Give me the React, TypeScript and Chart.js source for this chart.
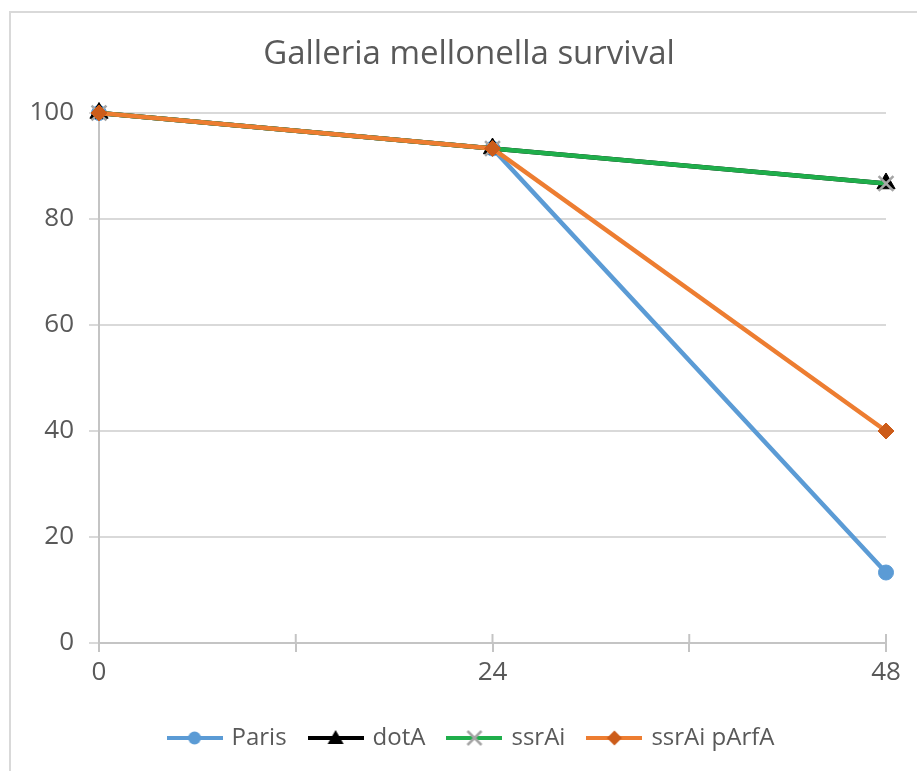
import { useEffect, useRef } from "react";
import { Chart, registerables } from "chart.js";

Chart.register(...registerables);

// ---- data ----
const hours = [0, 24, 48];
const paris = [100, 93.3, 13.3];
const dotA = [100, 93.3, 86.7];
const ssrAi = [100, 93.3, 86.7];
const ssrAiPArfA = [100, 93.3, 40];
const seriesNames = ["Paris", "dotA", "ssrAi", "ssrAi pArfA"];
const chartTitle = "Galleria mellonella survival";

const FONT = "'Segoe UI', 'Open Sans', sans-serif";
const TEXT = "#595959";
const GRID = "#d9d9d9";
const AXIS = "#c4c4c4";

type Marker = "circle" | "triangle" | "cross" | "diamond";

function legendIcon(line: string, marker: Marker, mColor: string): HTMLCanvasElement {
  const c = document.createElement("canvas");
  c.width = 56;
  c.height = 20;
  const ctx = c.getContext("2d")!;
  ctx.strokeStyle = line;
  ctx.lineWidth = 4;
  ctx.beginPath();
  ctx.moveTo(0, 10);
  ctx.lineTo(56, 10);
  ctx.stroke();
  const cx = 28, cy = 10;
  ctx.fillStyle = mColor;
  ctx.strokeStyle = mColor;
  if (marker === "circle") {
    ctx.beginPath();
    ctx.arc(cx, cy, 6.5, 0, Math.PI * 2);
    ctx.fill();
  } else if (marker === "triangle") {
    ctx.beginPath();
    ctx.moveTo(cx, cy - 8);
    ctx.lineTo(cx + 8, cy + 6);
    ctx.lineTo(cx - 8, cy + 6);
    ctx.closePath();
    ctx.fill();
  } else if (marker === "cross") {
    ctx.lineWidth = 2.5;
    ctx.beginPath();
    ctx.moveTo(cx - 7, cy - 7);
    ctx.lineTo(cx + 7, cy + 7);
    ctx.moveTo(cx + 7, cy - 7);
    ctx.lineTo(cx - 7, cy + 7);
    ctx.stroke();
  } else {
    ctx.beginPath();
    ctx.moveTo(cx, cy - 7.5);
    ctx.lineTo(cx + 7.5, cy);
    ctx.lineTo(cx, cy + 7.5);
    ctx.lineTo(cx - 7.5, cy);
    ctx.closePath();
    ctx.fill();
  }
  return c;
}

export default function App() {
  const ref = useRef<HTMLCanvasElement | null>(null);

  useEffect(() => {
    if (!ref.current) return;
    const styles = [
      { line: "#5b9bd5", marker: "circle" as Marker, mColor: "#5b9bd5" },
      { line: "#000000", marker: "triangle" as Marker, mColor: "#000000" },
      { line: "#1fae4b", marker: "cross" as Marker, mColor: "#a5a5a5" },
      { line: "#ed7d31", marker: "diamond" as Marker, mColor: "#cc5c1a" },
    ];
    const icons = styles.map((s) => legendIcon(s.line, s.marker, s.mColor));
    const toXY = (arr: number[]) => arr.map((v, i) => ({ x: hours[i], y: v }));

    const deco = {
      id: "deco",
      afterLayout(chart: any) {
        // Excel centres the legend on a wider chart frame; nudge it right
        const lg = chart.legend;
        if (lg) {
          lg.left += 29;
          lg.right += 29;
        }
      },
      beforeDraw(chart: any) {
        const ctx = chart.ctx;
        ctx.save();
        ctx.fillStyle = "#ffffff";
        ctx.fillRect(0, 0, chart.width, chart.height);
        ctx.strokeStyle = GRID;
        ctx.lineWidth = 2;
        ctx.beginPath();
        ctx.moveTo(10, chart.height + 2);
        ctx.lineTo(10, 12);
        ctx.lineTo(chart.width + 2, 12);
        ctx.stroke();
        ctx.fillStyle = TEXT;
        ctx.font = `33px ${FONT}`;
        ctx.textAlign = "center";
        ctx.textBaseline = "middle";
        ctx.fillText(chartTitle, 469, 55);
        ctx.restore();
      },
      beforeDatasetsDraw(chart: any) {
        const ctx = chart.ctx;
        const xs = chart.scales.x;
        const y0 = chart.scales.y.getPixelForValue(0);
        ctx.save();
        ctx.strokeStyle = AXIS;
        ctx.lineWidth = 2;
        xs.ticks.forEach((t: any) => {
          const px = xs.getPixelForValue(t.value);
          ctx.beginPath();
          ctx.moveTo(px, y0);
          ctx.lineTo(px, y0 - 9);
          ctx.stroke();
        });
        ctx.restore();
      },
    };

    const chart = new Chart(ref.current, {
      type: "line",
      data: {
        datasets: [
          { label: seriesNames[0], data: toXY(paris), order: 3 },
          { label: seriesNames[1], data: toXY(dotA), order: 2 },
          { label: seriesNames[2], data: toXY(ssrAi), order: 1 },
          { label: seriesNames[3], data: toXY(ssrAiPArfA), order: 0 },
        ].map((d, i) => {
          const s = styles[i];
          const base: any = {
            ...d,
            borderColor: s.line,
            borderWidth: 4.5,
            tension: 0,
            fill: false,
            clip: false,
            pointBackgroundColor: s.mColor,
            pointBorderColor: s.mColor,
            pointBorderWidth: 1,
          };
          if (s.marker === "circle") Object.assign(base, { pointStyle: "circle", pointRadius: 7.5 });
          if (s.marker === "triangle") Object.assign(base, { pointStyle: "triangle", pointRadius: 10.5 });
          if (s.marker === "cross") Object.assign(base, { pointStyle: "crossRot", pointRadius: 10.5, pointBorderWidth: 2.5 });
          if (s.marker === "diamond") Object.assign(base, { pointStyle: "rectRot", pointRadius: 8 });
          return base;
        }),
      },
      plugins: [deco],
      options: {
        responsive: false,
        animation: false,
        layout: { padding: { top: 113, right: 31, left: 0, bottom: 11 } },
        scales: {
          x: {
            type: "linear",
            min: 0,
            max: 48,
            ticks: {
              stepSize: 12,
              autoSkip: false,
              maxRotation: 0,
              color: TEXT,
              font: { family: FONT, size: 26 },
              padding: 5,
              callback: (v: any) => (Number(v) % 24 === 0 ? String(v) : ""),
            },
            grid: { drawOnChartArea: false, color: AXIS, lineWidth: 2, tickLength: 9 },
            border: { color: AXIS, width: 2 },
            afterFit: (scale: any) => {
              scale.height = 59;
            },
          },
          y: {
            min: 0,
            max: 100,
            ticks: {
              stepSize: 20,
              color: TEXT,
              font: { family: FONT, size: 26 },
              padding: 15,
            },
            grid: { color: GRID, lineWidth: 2, tickLength: 10 },
            border: { color: AXIS, width: 2 },
            afterFit: (scale: any) => {
              scale.width = 99;
            },
          },
        },
        plugins: {
          title: { display: false },
          tooltip: { enabled: false },
          legend: {
            position: "bottom",
            labels: {
              usePointStyle: true,
              pointStyleWidth: 50,
              padding: 24,
              color: TEXT,
              font: { family: FONT, size: 24 },
              generateLabels: () =>
                seriesNames.map((n, i) => ({
                  text: n,
                  pointStyle: icons[i] as any,
                  fillStyle: styles[i].line,
                  strokeStyle: styles[i].line,
                  lineWidth: 0,
                  hidden: false,
                  datasetIndex: i,
                  fontColor: TEXT,
                })),
            },
          },
        },
      } as any,
    });
    return () => chart.destroy();
  }, []);

  return (
    <div style={{ position: "fixed", left: 0, top: 0, width: 917, height: 771, background: "#fff" }}>
      <canvas ref={ref} width={917} height={771} style={{ display: "block", width: 917, height: 771 }} />
    </div>
  );
}
